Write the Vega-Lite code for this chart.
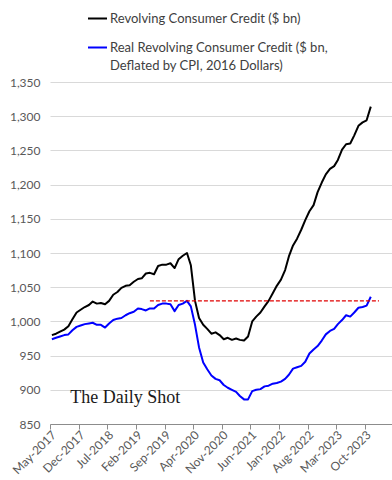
{
  "$schema": "https://vega.github.io/schema/vega-lite/v6.json",
  "width": 342,
  "height": 342,
  "autosize": "none",
  "padding": {"left": 50, "top": 82, "right": 0, "bottom": 56},
  "background": "white",
  "config": {
    "font": "Lato",
    "view": {"stroke": null},
    "style": {"guide-label": {"lineHeight": 18}}
  },
  "datasets": {
    "credit": [
      {"date": "2017-05-15", "nominal": 980, "real": 974},
      {"date": "2017-06-15", "nominal": 982, "real": 976},
      {"date": "2017-07-15", "nominal": 985, "real": 978},
      {"date": "2017-08-15", "nominal": 988, "real": 980},
      {"date": "2017-09-15", "nominal": 993, "real": 981},
      {"date": "2017-10-15", "nominal": 1003, "real": 987},
      {"date": "2017-11-15", "nominal": 1013, "real": 992},
      {"date": "2017-12-15", "nominal": 1017, "real": 994},
      {"date": "2018-01-15", "nominal": 1021, "real": 996},
      {"date": "2018-02-15", "nominal": 1024, "real": 997},
      {"date": "2018-03-15", "nominal": 1029, "real": 998},
      {"date": "2018-04-15", "nominal": 1026, "real": 995},
      {"date": "2018-05-15", "nominal": 1027, "real": 995},
      {"date": "2018-06-15", "nominal": 1025, "real": 991},
      {"date": "2018-07-15", "nominal": 1030, "real": 997},
      {"date": "2018-08-15", "nominal": 1039, "real": 1002},
      {"date": "2018-09-15", "nominal": 1043, "real": 1004},
      {"date": "2018-10-15", "nominal": 1049, "real": 1005},
      {"date": "2018-11-15", "nominal": 1052, "real": 1009},
      {"date": "2018-12-15", "nominal": 1053, "real": 1012},
      {"date": "2019-01-15", "nominal": 1058, "real": 1014},
      {"date": "2019-02-15", "nominal": 1062, "real": 1019},
      {"date": "2019-03-15", "nominal": 1063, "real": 1018},
      {"date": "2019-04-15", "nominal": 1070, "real": 1016},
      {"date": "2019-05-15", "nominal": 1071, "real": 1019},
      {"date": "2019-06-15", "nominal": 1069, "real": 1019},
      {"date": "2019-07-15", "nominal": 1081, "real": 1024},
      {"date": "2019-08-15", "nominal": 1083, "real": 1026},
      {"date": "2019-09-15", "nominal": 1083, "real": 1026},
      {"date": "2019-10-15", "nominal": 1085, "real": 1025},
      {"date": "2019-11-15", "nominal": 1078, "real": 1015},
      {"date": "2019-12-15", "nominal": 1091, "real": 1024},
      {"date": "2020-01-15", "nominal": 1096, "real": 1026},
      {"date": "2020-02-15", "nominal": 1100, "real": 1030},
      {"date": "2020-03-15", "nominal": 1082, "real": 1022},
      {"date": "2020-04-15", "nominal": 1030, "real": 995},
      {"date": "2020-05-15", "nominal": 1005, "real": 962},
      {"date": "2020-06-15", "nominal": 995, "real": 940},
      {"date": "2020-07-15", "nominal": 989, "real": 930},
      {"date": "2020-08-15", "nominal": 982, "real": 921},
      {"date": "2020-09-15", "nominal": 984, "real": 916},
      {"date": "2020-10-15", "nominal": 980, "real": 914},
      {"date": "2020-11-15", "nominal": 974, "real": 907},
      {"date": "2020-12-15", "nominal": 976, "real": 903},
      {"date": "2021-01-15", "nominal": 973, "real": 900},
      {"date": "2021-02-15", "nominal": 975, "real": 897},
      {"date": "2021-03-15", "nominal": 973, "real": 891},
      {"date": "2021-04-15", "nominal": 972, "real": 886},
      {"date": "2021-05-15", "nominal": 978, "real": 886},
      {"date": "2021-06-15", "nominal": 1000, "real": 898},
      {"date": "2021-07-15", "nominal": 1007, "real": 900},
      {"date": "2021-08-15", "nominal": 1013, "real": 901},
      {"date": "2021-09-15", "nominal": 1022, "real": 905},
      {"date": "2021-10-15", "nominal": 1030, "real": 906},
      {"date": "2021-11-15", "nominal": 1041, "real": 909},
      {"date": "2021-12-15", "nominal": 1052, "real": 910},
      {"date": "2022-01-15", "nominal": 1061, "real": 912},
      {"date": "2022-02-15", "nominal": 1075, "real": 916},
      {"date": "2022-03-15", "nominal": 1095, "real": 922},
      {"date": "2022-04-15", "nominal": 1111, "real": 931},
      {"date": "2022-05-15", "nominal": 1121, "real": 933},
      {"date": "2022-06-15", "nominal": 1134, "real": 935},
      {"date": "2022-07-15", "nominal": 1148, "real": 941},
      {"date": "2022-08-15", "nominal": 1161, "real": 953},
      {"date": "2022-09-15", "nominal": 1170, "real": 959},
      {"date": "2022-10-15", "nominal": 1189, "real": 964},
      {"date": "2022-11-15", "nominal": 1203, "real": 972},
      {"date": "2022-12-15", "nominal": 1215, "real": 981},
      {"date": "2023-01-15", "nominal": 1223, "real": 986},
      {"date": "2023-02-15", "nominal": 1227, "real": 989},
      {"date": "2023-03-15", "nominal": 1236, "real": 996},
      {"date": "2023-04-15", "nominal": 1251, "real": 1002},
      {"date": "2023-05-15", "nominal": 1259, "real": 1009},
      {"date": "2023-06-15", "nominal": 1260, "real": 1007},
      {"date": "2023-07-15", "nominal": 1272, "real": 1013},
      {"date": "2023-08-15", "nominal": 1286, "real": 1020},
      {"date": "2023-09-15", "nominal": 1291, "real": 1021},
      {"date": "2023-10-15", "nominal": 1294, "real": 1023},
      {"date": "2023-11-15", "nominal": 1314, "real": 1036}
    ],
    "threshold": [
      {"date": "2019-05-15", "value": 1030},
      {"date": "2024-01-15", "value": 1030}
    ],
    "logo": [
      {"date": "2018-11-12", "value": 888, "label": "The Daily Shot"}
    ]
  },
  "resolve": {"scale": {"x": "shared", "y": "shared"}},
  "layer": [
    {
      "data": {"name": "credit"},
      "transform": [{"fold": ["nominal", "real"], "as": ["series", "value"]}],
      "mark": {"type": "line", "strokeWidth": 2, "strokeJoin": "round"},
      "encoding": {
        "x": {
          "field": "date",
          "type": "temporal",
          "scale": {"type": "utc", "domain": ["2017-05-01", "2024-04-21"], "nice": false},
          "axis": {
            "title": null,
            "grid": false,
            "domain": true,
            "domainColor": "#8c8c8c",
            "domainWidth": 1,
            "ticks": true,
            "tickColor": "#8c8c8c",
            "tickSize": 5,
            "tickCount": 40,
            "labelAngle": -45,
            "labelAlign": "right",
            "labelBaseline": "top",
            "labelPadding": 0,
            "labelColor": "#595959",
            "labelFont": "Lato",
            "labelFontSize": 12,
            "format": "%b-%Y",
            "labelOverlap": false,
            "values": [
              {"year": 2017, "month": 5, "date": 1, "utc": true},
              {"year": 2017, "month": 12, "date": 1, "utc": true},
              {"year": 2018, "month": 7, "date": 1, "utc": true},
              {"year": 2019, "month": 2, "date": 1, "utc": true},
              {"year": 2019, "month": 9, "date": 1, "utc": true},
              {"year": 2020, "month": 4, "date": 1, "utc": true},
              {"year": 2020, "month": 11, "date": 1, "utc": true},
              {"year": 2021, "month": 6, "date": 1, "utc": true},
              {"year": 2022, "month": 1, "date": 1, "utc": true},
              {"year": 2022, "month": 8, "date": 1, "utc": true},
              {"year": 2023, "month": 3, "date": 1, "utc": true},
              {"year": 2023, "month": 10, "date": 1, "utc": true}
            ]
          }
        },
        "y": {
          "field": "value",
          "type": "quantitative",
          "scale": {"domain": [850, 1350], "nice": false, "zero": false},
          "axis": {
            "title": null,
            "values": [850, 900, 950, 1000, 1050, 1100, 1150, 1200, 1250, 1300, 1350],
            "tickCount": 40,
            "labelOverlap": false,
            "format": ",d",
            "domain": false,
            "ticks": false,
            "grid": true,
            "gridColor": "#d9d9d9",
            "gridWidth": 1,
            "labelPadding": 10,
            "labelColor": "#595959",
            "labelFont": "Lato",
            "labelFontSize": 12
          }
        },
        "color": {
          "field": "series",
          "type": "nominal",
          "scale": {"domain": ["nominal", "real"], "range": ["#000000", "#0000ff"]},
          "legend": {
            "orient": "none",
            "legendX": 37,
            "legendY": -74,
            "title": null,
            "padding": 0,
            "symbolType": "stroke",
            "symbolSize": 361,
            "symbolStrokeWidth": 2,
            "labelOffset": 2,
            "labelFont": "Lato",
            "labelFontSize": 13,
            "labelColor": "#404040",
            "labelLimit": 400,
            "rowPadding": 11,
            "labelExpr": "datum.value == 'nominal' ? 'Revolving Consumer Credit ($ bn)' : ['Real Revolving Consumer Credit ($ bn,', 'Deflated by CPI, 2016 Dollars)']"
          }
        }
      }
    },
    {
      "data": {"name": "threshold"},
      "mark": {"type": "line", "color": "#e00000", "strokeWidth": 1.3, "strokeDash": [4, 2]},
      "encoding": {
        "x": {"field": "date", "type": "temporal"},
        "y": {"field": "value", "type": "quantitative"}
      }
    },
    {
      "data": {"name": "logo"},
      "mark": {"type": "text", "font": "Liberation Serif", "fontSize": 18, "color": "#1a1a1a", "baseline": "middle", "align": "center"},
      "encoding": {
        "x": {"field": "date", "type": "temporal"},
        "y": {"field": "value", "type": "quantitative"},
        "text": {"field": "label"}
      }
    }
  ]
}
